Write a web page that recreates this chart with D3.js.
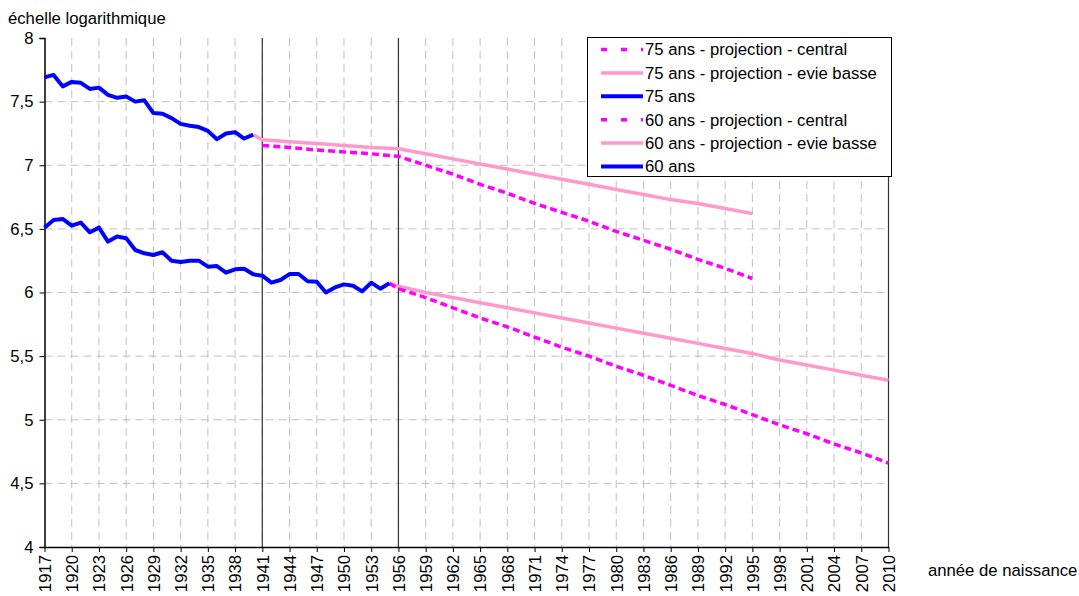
<!DOCTYPE html>
<html>
<head>
<meta charset="utf-8">
<script src="https://cdn.jsdelivr.net/npm/d3@7"></script>
<style>
  html, body { margin: 0; padding: 0; background: #fff; }
  svg { display: block; }
  text { font-family: Arial, "Liberation Sans", sans-serif; fill: #000; }
</style>
</head>
<body>
<svg id="chart" width="1079" height="596"></svg>
<script>
// ---- Data ----
const categories = d3.range(1917, 2011);
const tickYears = categories.filter(y => (y - 1917) % 3 === 0);
const yTicks = [4, 4.5, 5, 5.5, 6, 6.5, 7, 7.5, 8];
const markerYears = [1941, 1956, 2010];

const years75 = d3.range(1917, 1941);
const values75 = [7.69, 7.71, 7.62, 7.655, 7.648, 7.60, 7.61, 7.553, 7.53, 7.54, 7.50, 7.51,
                  7.41, 7.405, 7.37, 7.325, 7.31, 7.30, 7.27, 7.205, 7.25, 7.26, 7.21, 7.24];

const years60 = d3.range(1917, 1956);
const values60 = [6.509, 6.57, 6.578, 6.525, 6.549, 6.473, 6.51, 6.40, 6.44, 6.426, 6.334, 6.308,
                  6.295, 6.316, 6.25, 6.24, 6.25, 6.25, 6.203, 6.208, 6.156, 6.182, 6.187, 6.143,
                  6.132, 6.077, 6.098, 6.145, 6.145, 6.088, 6.085, 6.00, 6.04, 6.064, 6.053, 6.009,
                  6.077, 6.03, 6.072];

const years75Low = [1940, 1941, 1944, 1947, 1950, 1953, 1956, 1959, 1962, 1965, 1968, 1971, 1974,
                    1977, 1980, 1983, 1986, 1989, 1992, 1995];
const values75Low = [7.24, 7.20, 7.185, 7.17, 7.155, 7.14, 7.13, 7.09, 7.05, 7.01, 6.97, 6.93, 6.89,
                     6.85, 6.81, 6.77, 6.73, 6.70, 6.66, 6.62];

const years75Central = [1941, 1944, 1947, 1950, 1953, 1956, 1959, 1962, 1965, 1968, 1971, 1974,
                        1977, 1980, 1983, 1986, 1989, 1992, 1995];
const values75Central = [7.155, 7.14, 7.12, 7.105, 7.09, 7.07, 7.00, 6.93, 6.85, 6.78, 6.70, 6.63,
                         6.56, 6.48, 6.41, 6.34, 6.26, 6.19, 6.11];

const years60Proj = [1955, 1956, 1959, 1962, 1965, 1968, 1971, 1974, 1977, 1980, 1983, 1986, 1989,
                     1992, 1995, 1998, 2001, 2004, 2007, 2010];
const values60Low = [6.072, 6.05, 6.00, 5.96, 5.92, 5.88, 5.84, 5.80, 5.76, 5.72, 5.68, 5.64, 5.60,
                     5.56, 5.52, 5.47, 5.43, 5.39, 5.35, 5.31];
const values60Central = [6.072, 6.03, 5.96, 5.88, 5.80, 5.73, 5.65, 5.57, 5.50, 5.42, 5.35, 5.27, 5.19,
                         5.12, 5.04, 4.96, 4.89, 4.81, 4.74, 4.66];

const legendLabels = ["75 ans - projection - central", "75 ans - projection - evie basse", "75 ans",
                      "60 ans - projection - central", "60 ans - projection - evie basse", "60 ans"];

// ---- Styles ----
const BLUE = "#0000ff", PINK = "#ff99cc", MAGENTA = "#ff00ff";
const FS = 16.7;
const styles = [
  { color: MAGENTA, width: 3.5, dash: "7,4" },
  { color: PINK, width: 3.5, dash: null },
  { color: BLUE, width: 4, dash: null }
];

// ---- Layout ----
const svg = d3.select("#chart");
const L = 44.5, R = 888.5, T = 38, B = 547;

const x = d3.scalePoint().domain(categories).range([L, R]);
const y = d3.scaleLinear().domain([4, 8]).range([B, T]);

// gridlines
const grid = svg.append("g");
grid.selectAll("line.h").data(yTicks.filter(v => v > 4 && v < 8)).join("line")
  .attr("x1", L).attr("x2", R).attr("y1", d => y(d)).attr("y2", d => y(d))
  .attr("stroke", "#c0c0c0").attr("stroke-width", 1).attr("stroke-dasharray", "8,5");
grid.selectAll("line.v").data(tickYears.filter(v => v > 1917)).join("line")
  .attr("x1", d => x(d)).attr("x2", d => x(d)).attr("y1", T).attr("y2", B)
  .attr("stroke", "#c0c0c0").attr("stroke-width", 1).attr("stroke-dasharray", "8,5");

// vertical marker lines
svg.append("g").selectAll("line").data(markerYears).join("line")
  .attr("x1", d => x(d)).attr("x2", d => x(d)).attr("y1", T).attr("y2", B)
  .attr("stroke", "#333").attr("stroke-width", 1.2);

// axes
const yAxis = d3.axisLeft(y).tickValues(yTicks).tickSize(5).tickPadding(6)
  .tickFormat(d => String(d).replace(".", ","));
const gy = svg.append("g").attr("transform", `translate(${L},0)`).call(yAxis);
gy.select(".domain").attr("stroke", "#000").attr("stroke-width", 1.5);
gy.selectAll(".tick line").attr("stroke", "#000");
gy.selectAll(".tick text").attr("font-size", FS).attr("font-family", "Arial, 'Liberation Sans', sans-serif");

const xAxis = d3.axisBottom(x).tickValues(tickYears).tickSize(5).tickSizeOuter(0);
const gx = svg.append("g").attr("transform", `translate(0,${B})`).call(xAxis);
gx.select(".domain").attr("stroke", "#000").attr("stroke-width", 1.5);
gx.selectAll(".tick line").attr("stroke", "#000");
gx.selectAll(".tick text")
  .attr("font-size", FS).attr("font-family", "Arial, 'Liberation Sans', sans-serif")
  .attr("text-anchor", "end").attr("dy", "0.35em").attr("x", 0).attr("y", 0)
  .attr("transform", "translate(0,8) rotate(-90)");

// titles
svg.append("text").attr("x", 8).attr("y", 24).attr("font-size", FS).text("échelle logarithmique");
svg.append("text").attr("x", 928).attr("y", 576).attr("font-size", FS).text("année de naissance");

// series
const line = d3.line().x(d => x(d[0])).y(d => y(d[1]));
const zip = (a, b) => a.map((v, i) => [v, b[i]]);
const series = [
  { data: zip(years75Low, values75Low), s: styles[1] },
  { data: zip(years60Proj, values60Low), s: styles[1] },
  { data: zip(years75Central, values75Central), s: styles[0] },
  { data: zip(years60Proj, values60Central), s: styles[0] },
  { data: zip(years75, values75), s: styles[2] },
  { data: zip(years60, values60), s: styles[2] }
];
svg.append("g").selectAll("path").data(series).join("path")
  .attr("d", d => line(d.data))
  .attr("fill", "none")
  .attr("stroke", d => d.s.color)
  .attr("stroke-width", d => d.s.width)
  .attr("stroke-dasharray", d => d.s.dash)
  .attr("stroke-linejoin", "round");

// legend
const lg = svg.append("g");
lg.append("rect").attr("x", 587.5).attr("y", 37.5).attr("width", 304).attr("height", 139)
  .attr("fill", "#fff").attr("stroke", "#000").attr("stroke-width", 1);
const legendStyles = [styles[0], styles[1], styles[2], styles[0], styles[1], styles[2]];
const rows = lg.selectAll("g.row").data(legendLabels).join("g")
  .attr("transform", (d, i) => `translate(0,${49.5 + i * 23.4})`);
rows.append("line").attr("x1", 601).attr("x2", 643).attr("y1", 0).attr("y2", 0)
  .attr("stroke", (d, i) => legendStyles[i].color)
  .attr("stroke-width", (d, i) => legendStyles[i].width)
  .attr("stroke-dasharray", (d, i) => legendStyles[i].dash ? "6,14" : null);
rows.append("text").attr("x", 645).attr("y", 0).attr("dy", "0.35em").attr("font-size", FS)
  .text(d => d);
</script>
</body>
</html>
